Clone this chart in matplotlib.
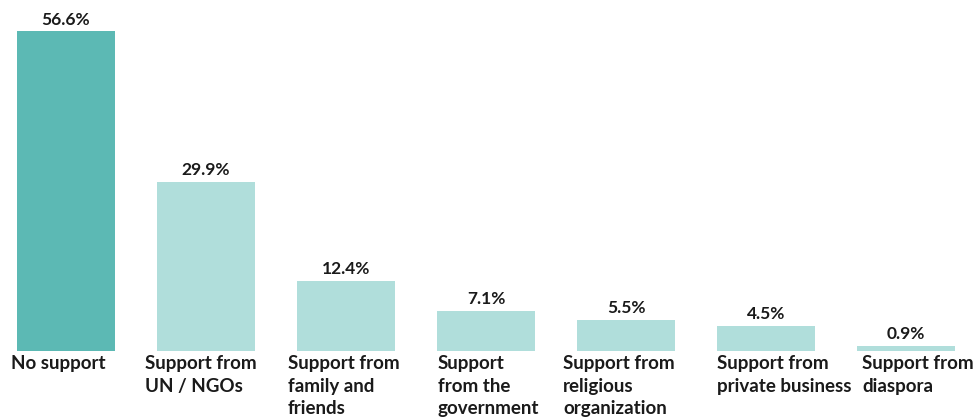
import matplotlib.pyplot as plt

# Share of respondents by main source of support received
categories = [
    "No support",
    "Support from\nUN / NGOs",
    "Support from\nfamily and\nfriends",
    "Support\nfrom the\ngovernment",
    "Support from\nreligious\norganization",
    "Support from\nprivate business",
    "Support from\ndiaspora",
]
values = [56.6, 29.9, 12.4, 7.1, 5.5, 4.5, 0.9]

# horizontal nudge of each category label from its bar's left edge (px)
label_shift = [-6, -12, -9, 1, -14, 0, 5]

dark_teal = "#5cb9b4"
light_teal = "#b0dedb"
colors = [dark_teal] + [light_teal] * (len(values) - 1)

plt.rcParams['font.family'] = ['Lato', 'DejaVu Sans']

fig = plt.figure(figsize=(9.79, 4.19), dpi=100)
ax = fig.add_axes([0, 68 / 419, 1, 351 / 419])

xs = range(len(values))
width = 0.7
ax.bar(xs, values, width=width, color=colors)

for x, v in zip(xs, values):
    ax.annotate(f"{v}%", (x, v), xytext=(0, 2.5), textcoords="offset points",
                ha="center", va="bottom", fontsize=12.5, fontweight="bold",
                color="#1a1a1a")

for x, label, dx in zip(xs, categories, label_shift):
    ax.annotate(label, (x - width / 2, 0), xytext=(dx * 0.72, -3),
                textcoords="offset points", ha="left", va="top",
                fontsize=13.5, fontweight="bold", color="#1a1a1a",
                linespacing=1.4, annotation_clip=False)

ax.set_xlim(-66 / 140, (979 - 66) / 140)
ax.set_ylim(0, 56.6 * 351 / 320)
ax.axis("off")

fig.savefig("out.png", dpi=100)
